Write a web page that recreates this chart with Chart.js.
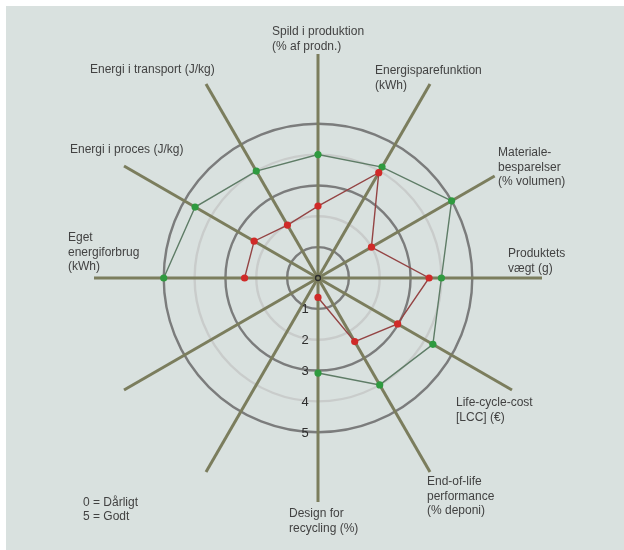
<!DOCTYPE html>
<html>
<head>
<meta charset="utf-8">
<script src="https://cdn.jsdelivr.net/npm/chart.js@4/dist/chart.umd.min.js"></script>
<style>
  html, body { margin: 0; padding: 0; background: #fff; }
  #wrap { width: 624px; height: 550px; }
</style>
</head>
<body>
<div id="wrap"><canvas id="radar" width="624" height="550"></canvas></div>
<script>
// axis names, clockwise from the top; two spokes at the lower left carry no label
const axisLabels = [
  ["Spild i produktion", "(% af prodn.)"],
  ["Energisparefunktion", "(kWh)"],
  ["Materiale-", "besparelser", "(% volumen)"],
  ["Produktets", "vægt (g)"],
  ["Life-cycle-cost", "[LCC] (€)"],
  ["End-of-life", "performance", "(% deponi)"],
  ["Design for", "recycling (%)"],
  [""],
  [""],
  ["Eget", "energiforbrug", "(kWh)"],
  ["Energi i proces (J/kg)"],
  ["Energi i transport (J/kg)"]
];

// scores 0..5
const greenValues = [4, 4.15, 5, 4, 4.3, 4, 3.08, null, null, 5, 4.6, 4];
const redValues = [2.33, 3.94, 2, 3.6, 2.98, 2.38, 0.63, null, null, 2.38, 2.39, 1.98];

const scaleTicks = ["1", "2", "3", "4", "5"];
const legendLines = ["0 = Dårligt", "5 = Godt"];

// label placement relative to the end of each spoke [dx, dy]
const labelOffsets = [
  [-46, -22], [-55, -13], [-14, -13], [-34, -24], [-56, 13], [-3, 10],
  [-29, 12], [0, 0], [0, 0], [-26, -40], [-54, -16], [-116, -14]
];

const textFont = "12px 'Liberation Sans', Arial, sans-serif";
const tickFont = "13px 'Liberation Sans', Arial, sans-serif";

const panelAndText = {
  id: "panelAndText",
  beforeDraw(chart) {
    const c = chart.ctx;
    c.save();
    c.fillStyle = "#d9e1df";
    c.fillRect(6, 6, chart.width - 6, chart.height - 6);
    c.restore();
  },
  afterDraw(chart) {
    const c = chart.ctx;
    const s = chart.scales.r;
    c.save();
    c.font = textFont;
    c.fillStyle = "#424242";
    c.textBaseline = "middle";
    c.textAlign = "left";
    const outer = s.getDistanceFromCenterForValue(s.max);
    axisLabels.forEach((lines, i) => {
      const p = s.getPointPosition(i, outer);
      lines.forEach((t, k) => {
        c.fillText(t, p.x + labelOffsets[i][0], p.y + labelOffsets[i][1] + k * 14.5);
      });
    });
    // scale numbers below the centre, just left of the bottom spoke
    c.font = tickFont;
    c.textAlign = "center";
    c.fillStyle = "#2e2e2e";
    scaleTicks.forEach((t, k) => {
      const r = s.getDistanceFromCenterForValue(k + 1);
      c.fillText(t, s.xCenter - 13, s.yCenter + r + 1);
    });
    // legend
    c.font = textFont;
    c.textAlign = "left";
    c.fillStyle = "#424242";
    legendLines.forEach((t, k) => c.fillText(t, 83, 503 + k * 13.5));
    // centre mark
    c.beginPath();
    c.arc(s.xCenter, s.yCenter, 2.5, 0, Math.PI * 2);
    c.strokeStyle = "#2a2a2a";
    c.lineWidth = 1.3;
    c.stroke();
    c.restore();
  }
};

new Chart(document.getElementById("radar"), {
  type: "radar",
  data: {
    labels: axisLabels,
    datasets: [
      {
        label: "red",
        data: redValues,
        borderColor: "#944444",
        borderWidth: 1.4,
        backgroundColor: "transparent",
        fill: false,
        pointBackgroundColor: "#d02a28",
        pointBorderWidth: 0,
        pointRadius: 3.6,
        spanGaps: false
      },
      {
        label: "green",
        data: greenValues,
        borderColor: "#5e7c66",
        borderWidth: 1.4,
        backgroundColor: "transparent",
        fill: false,
        pointBackgroundColor: "#2f9a3f",
        pointBorderWidth: 0,
        pointRadius: 3.6,
        spanGaps: false
      }
    ]
  },
  options: {
    responsive: false,
    animation: false,
    layout: { padding: { left: 94, right: 82, top: 54, bottom: 48 } },
    plugins: { legend: { display: false }, tooltip: { enabled: false } },
    elements: { line: { tension: 0 } },
    scales: {
      r: {
        min: 0,
        max: 7.26,
        ticks: { display: false, stepSize: 1 },
        pointLabels: { display: false },
        grid: {
          circular: true,
          color: ctx => (ctx.tick.value % 2 === 1 ? "#7b7c7c" : "#c9cccb"),
          lineWidth: ctx => (ctx.tick.value >= 1 && ctx.tick.value <= 5 ? 2.4 : 0)
        },
        angleLines: {
          color: "#7b7d5d",
          lineWidth: 3,
          borderDash: ctx => (ctx.index === 2 ? [204, 400] : [])
        }
      }
    }
  },
  plugins: [panelAndText]
});
</script>
</body>
</html>
